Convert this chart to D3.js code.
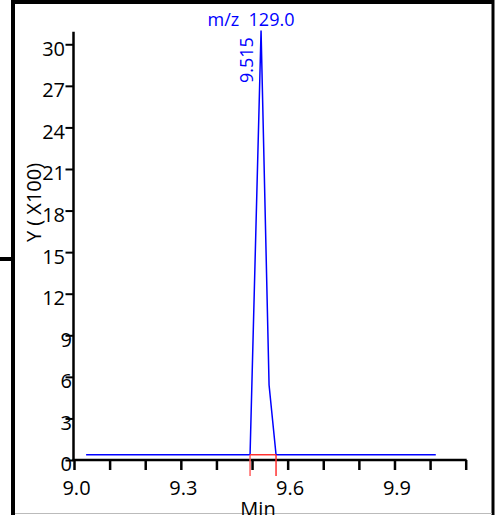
<!DOCTYPE html>
<html><head><meta charset="utf-8">
<script src="https://cdn.jsdelivr.net/npm/d3@7"></script>
<style>html,body{margin:0;padding:0;background:#fff;overflow:hidden}svg{display:block}</style>
</head><body>
<script>
// ---- data ----
const title = "m/z  129.0";
const peakLabel = "9.515";
const xTitle = "Min";
const yTitle = "Y ( X100)";
const times  = [9.034, 9.4944, 9.5253, 9.5478, 9.5674, 10.016];
const values = [0.38,  0.38,   31.0,   5.41,   0.38,   0.38];
const integStart = 9.4944, integEnd = 9.5674, integBase = 0.38;
const xTicks = [9.0,9.1,9.2,9.3,9.4,9.5,9.6,9.7,9.8,9.9,10.0,10.1];
const xLabels = [9.0, 9.3, 9.6, 9.9];
const yTicks = [0,3,6,9,12,15,18,21,24,27,30];

const W = 498, H = 515;
const FONT = "'Open Sans', sans-serif";
const svg = d3.select("body").append("svg").attr("width", W).attr("height", H);

const x = d3.scaleLinear().domain([9.0, 10.1]).range([74, 465.7]);
const y = d3.scaleLinear().domain([0, 30.9]).range([460, 31.8]);

// frame
svg.append("line").attr("x1", 11).attr("x2", 494).attr("y1", 2).attr("y2", 2).attr("stroke", "#000").attr("stroke-width", 4);
svg.append("line").attr("x1", 13).attr("x2", 13).attr("y1", 0).attr("y2", H).attr("stroke", "#000").attr("stroke-width", 4);
svg.append("line").attr("x1", 493).attr("x2", 493).attr("y1", 0).attr("y2", H).attr("stroke", "#000").attr("stroke-width", 3);
svg.append("line").attr("x1", 15).attr("x2", 492).attr("y1", 513.5).attr("y2", 513.5).attr("stroke", "#bbb").attr("stroke-width", 1);
svg.append("line").attr("x1", 0).attr("x2", 11).attr("y1", 259).attr("y2", 259).attr("stroke", "#000").attr("stroke-width", 4);

// x axis
const xa = svg.append("g").attr("transform", `translate(0,${y(0)})`)
  .call(d3.axisBottom(x).tickValues(xTicks).tickSize(10).tickSizeOuter(0)
    .tickFormat(d => xLabels.some(v => Math.abs(v - d) < 1e-9) ? d3.format(".1f")(d) : ""));
xa.select(".domain").attr("stroke", "#000").attr("stroke-width", 2.5).attr("d", `M${x(9.0)-1.5},0H${x(10.1)+1}`);
xa.selectAll(".tick line").attr("stroke", "#000").attr("stroke-width", 2.5);
xa.selectAll(".tick text").attr("font-family", FONT).attr("font-size", 20).attr("fill", "#000")
  .attr("y", 21).attr("dy", "0.71em").attr("dx", 2);

// y axis
const ya = svg.append("g").attr("transform", `translate(${x(9.0)-0.5},0)`)
  .call(d3.axisLeft(y).tickValues(yTicks).tickSize(8).tickSizeOuter(0).tickFormat(d3.format("d")));
ya.select(".domain").attr("stroke", "#000").attr("stroke-width", 2.5).attr("d", `M0,${y(30.9)}V${y(0)+1}`);
ya.selectAll(".tick line").attr("stroke", "#000").attr("stroke-width", 2);
ya.selectAll(".tick text").attr("font-family", FONT).attr("font-size", 20).attr("fill", "#000")
  .attr("x", d => String(d).length > 1 ? -8.5 : -1.5).attr("dy", "0.32em").attr("y", 4.5);

// y title
svg.append("text").attr("transform", `translate(40.5,${(157+248)/2}) rotate(-90)`)
  .attr("text-anchor", "middle").attr("font-family", FONT).attr("font-size", 20).attr("fill", "#000")
  .attr("xml:space", "preserve").style("white-space", "pre").text(yTitle);
// x title
svg.append("text").attr("x", 258).attr("y", 516).attr("text-anchor", "middle")
  .attr("font-family", FONT).attr("font-size", 20).attr("fill", "#000").text(xTitle);

// trace
const pts = times.map((t, i) => [t, values[i]]);
svg.append("path").datum(pts).attr("fill", "none").attr("stroke", "#0000ff").attr("stroke-width", 1.5)
  .attr("d", d3.line().x(d => x(d[0])).y(d => y(d[1])));

// integration markers
const red = "#ff3030";
svg.append("line").attr("x1", x(integStart)).attr("x2", x(integEnd)).attr("y1", y(integBase)).attr("y2", y(integBase)).attr("stroke", red).attr("stroke-width", 1.5);
[integStart, integEnd].forEach((t, i) => {
  svg.append("line").attr("x1", x(t)).attr("x2", x(t)).attr("y1", y(integBase)).attr("y2", 476)
    .attr("stroke", i === 0 ? "#ff6060" : red).attr("stroke-width", 1.5);
});

// title
svg.append("text").attr("x", 251).attr("y", 26).attr("text-anchor", "middle")
  .attr("font-family", FONT).attr("font-size", 18).attr("fill", "#0000ff").attr("xml:space", "preserve").style("white-space", "pre").text(title);
// peak label
const apexT = times[values.indexOf(d3.max(values))];
svg.append("text").attr("transform", `translate(${x(apexT) - 8},83) rotate(-90)`)
  .attr("font-family", FONT).attr("font-size", 18).attr("fill", "#0000ff").text(peakLabel);
</script>
</body></html>
